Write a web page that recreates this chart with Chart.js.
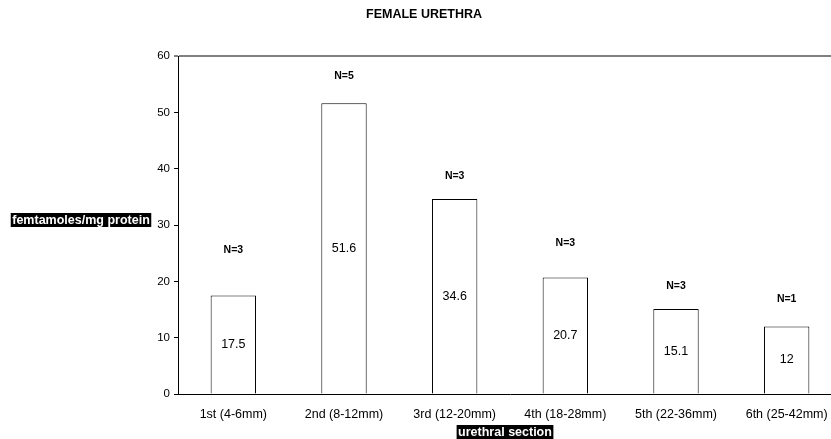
<!DOCTYPE html>
<html>
<head>
<meta charset="utf-8">
<script src="https://cdn.jsdelivr.net/npm/chart.js@4/dist/chart.umd.min.js"></script>
<style>
  html, body { margin: 0; padding: 0; background: #fff; overflow: hidden; }
  canvas { display: block; }
</style>
</head>
<body>
<canvas id="myChart" width="848" height="439"></canvas>
<script>
// data
const categories = ['1st (4-6mm)', '2nd (8-12mm)', '3rd (12-20mm)', '4th (18-28mm)', '5th (22-36mm)', '6th (25-42mm)'];
const values = [17.5, 51.6, 34.6, 20.7, 15.1, 12];
const nLabels = ['N=3', 'N=5', 'N=3', 'N=3', 'N=3', 'N=1'];
// height (in y-axis units) where each N label sits
const nLabelHeights = [25.6, 56.5, 38.7, 26.8, 19.1, 16.9];
const yTicks = [0, 10, 20, 30, 40, 50, 60];

const FONT = '"Liberation Sans", Arial, sans-serif';

// title, axis titles and bar labels
const labelsPlugin = {
    id: 'labels',
    afterDraw(chart) {
        const ctx = chart.ctx;
        const y = chart.scales.y;
        const meta = chart.getDatasetMeta(0);
        ctx.save();
        ctx.textAlign = 'center';
        ctx.textBaseline = 'middle';

        // chart title
        ctx.fillStyle = '#000';
        ctx.font = 'bold 12.5px ' + FONT;
        ctx.fillText('FEMALE URETHRA', chart.width / 2, 15);

        // axis titles, white text on black
        function boxedText(text, cx, cy) {
            ctx.font = 'bold 12.5px ' + FONT;
            let w = ctx.measureText(text).width + 3;
            ctx.fillStyle = '#000';
            ctx.fillRect(cx - w / 2, cy - 7, w, 14);
            ctx.fillStyle = '#fff';
            ctx.fillText(text, cx, cy + 0.5);
        }
        boxedText('femtamoles/mg protein', 81, 220);
        boxedText('urethral section', 505, 432);

        // values inside bars and N labels above
        meta.data.forEach((bar, i) => {
            ctx.fillStyle = '#000';
            ctx.font = '12.5px ' + FONT;
            ctx.fillText(values[i], bar.x, (bar.y + bar.base) / 2);
            ctx.font = 'bold 10.5px ' + FONT;
            ctx.fillText(nLabels[i], bar.x, y.getPixelForValue(nLabelHeights[i]));
        });
        ctx.restore();
    }
};

let data = {
    labels: categories,
    datasets: [{
        data: values,
        backgroundColor: '#ffffff',
        borderColor: '#000000',
        borderWidth: 1,
        categoryPercentage: 1,
        barPercentage: 0.41
    }]
};

const config = {
    type: 'bar',
    data: data,
    options: {
        responsive: false,
        animation: false,
        layout: { padding: { top: 56, right: 6, left: 0, bottom: 0 } },
        plugins: {
            legend: { display: false },
            tooltip: { enabled: false }
        },
        scales: {
            x: {
                grid: { display: false },
                border: { color: '#000', width: 1 },
                ticks: {
                    color: '#000',
                    font: { family: FONT, size: 12.5 },
                    padding: 5,
                    maxRotation: 0,
                    autoSkip: false
                },
                afterFit: (scale) => { scale.height = 45; }
            },
            y: {
                min: 0,
                max: 60,
                afterBuildTicks: (scale) => { scale.ticks = yTicks.map(v => ({ value: v })); },
                grid: {
                    color: (c) => c.tick && c.tick.value === 60 ? '#808080' : 'rgba(0,0,0,0)',
                    lineWidth: (c) => c.tick && c.tick.value === 60 ? 2 : 1,
                    tickColor: '#000',
                    tickWidth: 1,
                    tickLength: 4
                },
                border: { color: '#000', width: 1 },
                ticks: {
                    color: '#000',
                    font: { family: FONT, size: 11.5 },
                    padding: 4
                },
                afterFit: (scale) => { scale.width = 178; }
            }
        }
    },
    plugins: [labelsPlugin]
};

let myChart = new Chart(document.getElementById('myChart'), config);
</script>
</body>
</html>
